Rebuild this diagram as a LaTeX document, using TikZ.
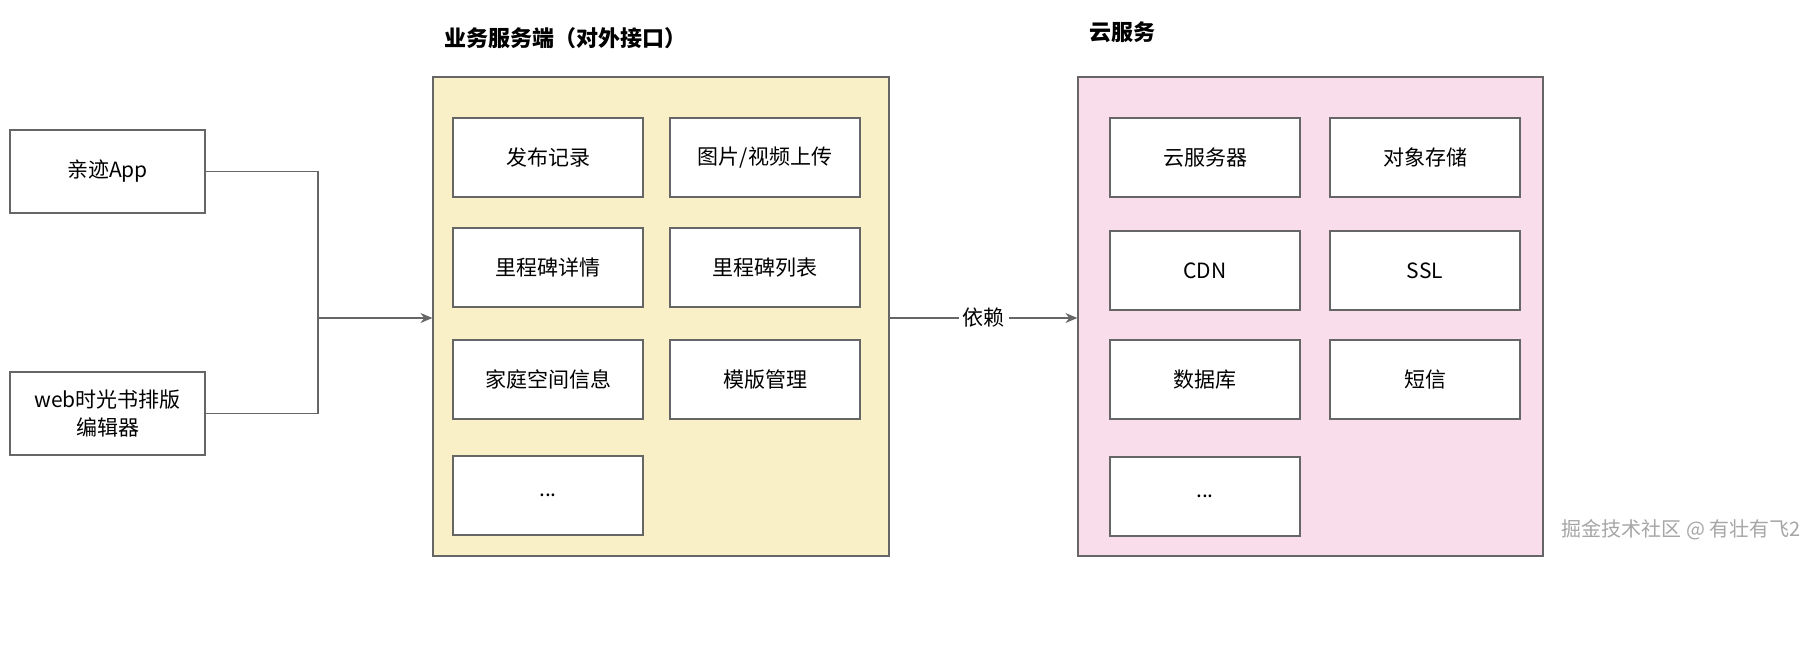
\documentclass[tikz,border=0pt]{standalone}
\usepackage{fontspec}
\setmainfont{Noto Sans CJK SC}
\usetikzlibrary{arrows.meta,positioning}
\definecolor{bizfill}{HTML}{FAF0C8}
\definecolor{cloudfill}{HTML}{F9DDEA}
\definecolor{edgegray}{HTML}{666666}
\begin{document}
\begin{tikzpicture}[x=0.5pt,y=-0.5pt,
    box/.style={draw=edgegray, fill=white, line width=0.6pt, minimum width=95pt, minimum height=39.5pt, font=\fontsize{10.5}{14}\selectfont, align=center},
    group/.style={draw=edgegray, line width=0.6pt, minimum width=#1, minimum height=239.5pt},
    title/.style={font=\fontsize{11}{14}\selectfont\bfseries, anchor=west},
    link/.style={draw=edgegray, line width=0.6pt}]
    \fill[white] (0,0) rectangle (1812,649);
    % clients
    \node[box, minimum width=97.5pt, minimum height=41.5pt] (app) at (107.5,171.5) {亲迹App};
    \node[box, minimum width=97.5pt, minimum height=41.5pt] (web) at (107.5,413.5) {web时光书排版\\编辑器};
    % business side
    \node[group=228pt, fill=bizfill] (biz) at (661,316.5) {};
    \node[title] (biztitle) at (437,38) {业务服务端（对外接口）};
    \node[box] (b1) at (548,157.5) {发布记录};
    \node[box] (b2) at (765,157.5) {图片/视频上传};
    \node[box] (b3) at (548,267.5) {里程碑详情};
    \node[box] (b4) at (765,267.5) {里程碑列表};
    \node[box] (b5) at (548,379.5) {家庭空间信息};
    \node[box] (b6) at (765,379.5) {模版管理};
    \node[box] (b7) at (548,495.5) {...};
    % cloud side
    \node[group=232.5pt, fill=cloudfill] (cloud) at (1310.5,316.5) {};
    \node[title] (cloudtitle) at (1082,32) {云服务};
    \node[box] (c1) at (1205,157.5) {云服务器};
    \node[box] (c2) at (1425,157.5) {对象存储};
    \node[box] (c3) at (1205,270.5) {CDN};
    \node[box] (c4) at (1425,270.5) {SSL};
    \node[box] (c5) at (1205,379.5) {数据库};
    \node[box] (c6) at (1425,379.5) {短信};
    \node[box] (c7) at (1205,496.5) {...};
    % connectors
    \coordinate (join) at (318,318);
    \draw[link] (app.east) -| (join);
    \draw[link] (web.east) -| (join);
    \draw[link, -{Stealth[length=6pt,width=5pt]}] (join) -- (join -| biz.west);
    \draw[link, -{Stealth[length=6pt,width=5pt]}] (biz.east |- join) -- node[fill=white, inner sep=2pt, font=\fontsize{10.5}{14}\selectfont] (dep) {依赖} (cloud.west |- join);
    \node[font=\fontsize{10}{12}\selectfont, text=gray!70, anchor=east] (mark) at (1808,530) {掘金技术社区 @ 有壮有飞2};
\end{tikzpicture}
\end{document}
